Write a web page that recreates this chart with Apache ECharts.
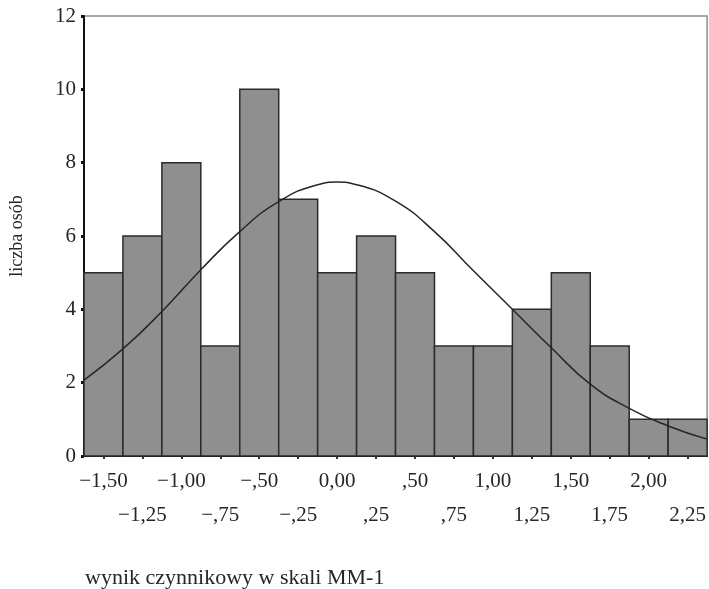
<!DOCTYPE html>
<html>
<head>
<meta charset="utf-8">
<script src="https://cdn.jsdelivr.net/npm/echarts@6/dist/echarts.min.js"></script>
<style>
  html, body { margin: 0; padding: 0; background: #fff; }
  #chart { width: 709px; height: 589px; }
</style>
</head>
<body>
<div id="chart"></div>
<script>
'use strict';

// histogram bins (centres) and counts
var binCenters = [-1.50, -1.25, -1.00, -0.75, -0.50, -0.25, 0.00, 0.25, 0.50, 0.75, 1.00, 1.25, 1.50, 1.75, 2.00, 2.25];
var binCounts  = [5, 6, 8, 3, 10, 7, 5, 6, 5, 3, 3, 4, 5, 3, 1, 1];
var binWidth = 0.25;

// tick labels, two rows
var tickValues = binCenters;
var tickLabels = ['\u22121,50', '\u22121,25', '\u22121,00', '\u2212,75', '\u2212,50', '\u2212,25', '0,00', ',25',
                  ',50', ',75', '1,00', '1,25', '1,50', '1,75', '2,00', '2,25'];
var yTicks = [0, 2, 4, 6, 8, 10, 12];

// normal curve
var curveX = [-1.625, -1.375, -1.125, -0.875, -0.625, -0.375, -0.125, 0.00, 0.125, 0.375, 0.625, 0.875, 1.125, 1.375, 1.625, 1.875, 2.125, 2.375];
var curveY = [2.07, 2.92, 3.94, 5.08, 6.12, 6.94, 7.40, 7.47, 7.40, 6.95, 6.12, 5.05, 4.00, 2.95, 1.96, 1.30, 0.82, 0.46];

var font = 'Liberation Serif';
var ink = '#262626';

var row1 = tickValues.filter(function (v, i) { return i % 2 === 0; });
var row2 = tickValues.filter(function (v, i) { return i % 2 === 1; });

function labelFor(v) {
    for (var i = 0; i < tickValues.length; i++) {
        if (Math.abs(tickValues[i] - v) < 1e-6) return tickLabels[i];
    }
    return '';
}

var chart = echarts.init(document.getElementById('chart'));

var option = {
    animation: false,
    title: {
        text: 'wynik czynnikowy w skali MM-1',
        left: 80,
        top: 562,
        textStyle: { fontFamily: font, fontSize: 22, fontWeight: 'normal', color: ink }
    },
    grid: {
        left: 84, top: 16, right: 1, bottom: 133,
        show: true, borderColor: '#8c8c8c', borderWidth: 1.5, backgroundColor: '#fff'
    },
    xAxis: [{
        type: 'value',
        min: -1.625,
        max: 2.375,
        axisLine: { onZero: false, lineStyle: { color: '#111', width: 2 } },
        axisTick: { show: true, customValues: tickValues, length: 3, lineStyle: { color: '#333', width: 2 } },
        axisLabel: {
            customValues: row1, margin: 15,
            fontFamily: font, fontSize: 21, color: ink,
            formatter: labelFor
        },
        splitLine: { show: false }
    }, {
        type: 'value',
        min: -1.625,
        max: 2.375,
        position: 'bottom',
        axisLine: { show: false },
        axisTick: { show: false },
        axisLabel: {
            customValues: row2, margin: 49,
            fontFamily: font, fontSize: 21, color: ink,
            formatter: labelFor
        },
        splitLine: { show: false }
    }],
    yAxis: {
        type: 'value',
        min: 0,
        max: 12,
        interval: 2,
        name: 'liczba osób',
        nameLocation: 'middle',
        nameGap: 58,
        nameRotate: 90,
        nameTextStyle: { fontFamily: font, fontSize: 18, color: ink },
        axisLine: { show: true, onZero: false, lineStyle: { color: '#111', width: 2 } },
        axisTick: { show: true, length: 3, lineStyle: { color: '#111', width: 3 } },
        axisLabel: {
            margin: 8, fontFamily: font, fontSize: 21, color: ink,
            formatter: function (v) { return yTicks.indexOf(v) >= 0 ? String(v) : ''; }
        },
        splitLine: { show: false }
    },
    series: [{
        type: 'custom',
        xAxisIndex: 0,
        data: binCenters.map(function (c, i) { return [c, binCounts[i]]; }),
        renderItem: function (params, api) {
            var c = api.value(0);
            var n = api.value(1);
            var p0 = api.coord([c - binWidth / 2, n]);
            var p1 = api.coord([c + binWidth / 2, 0]);
            return {
                type: 'rect',
                shape: { x: p0[0], y: p0[1], width: p1[0] - p0[0], height: p1[1] - p0[1] },
                style: { fill: '#8f8f8f', stroke: '#2b2b2b', lineWidth: 1.5 }
            };
        },
        z: 2
    }, {
        type: 'line',
        xAxisIndex: 0,
        data: curveX.map(function (x, i) { return [x, curveY[i]]; }),
        smooth: true,
        symbol: 'none',
        lineStyle: { color: '#262626', width: 1.5 },
        z: 3
    }]
};

chart.setOption(option);
</script>
</body>
</html>
